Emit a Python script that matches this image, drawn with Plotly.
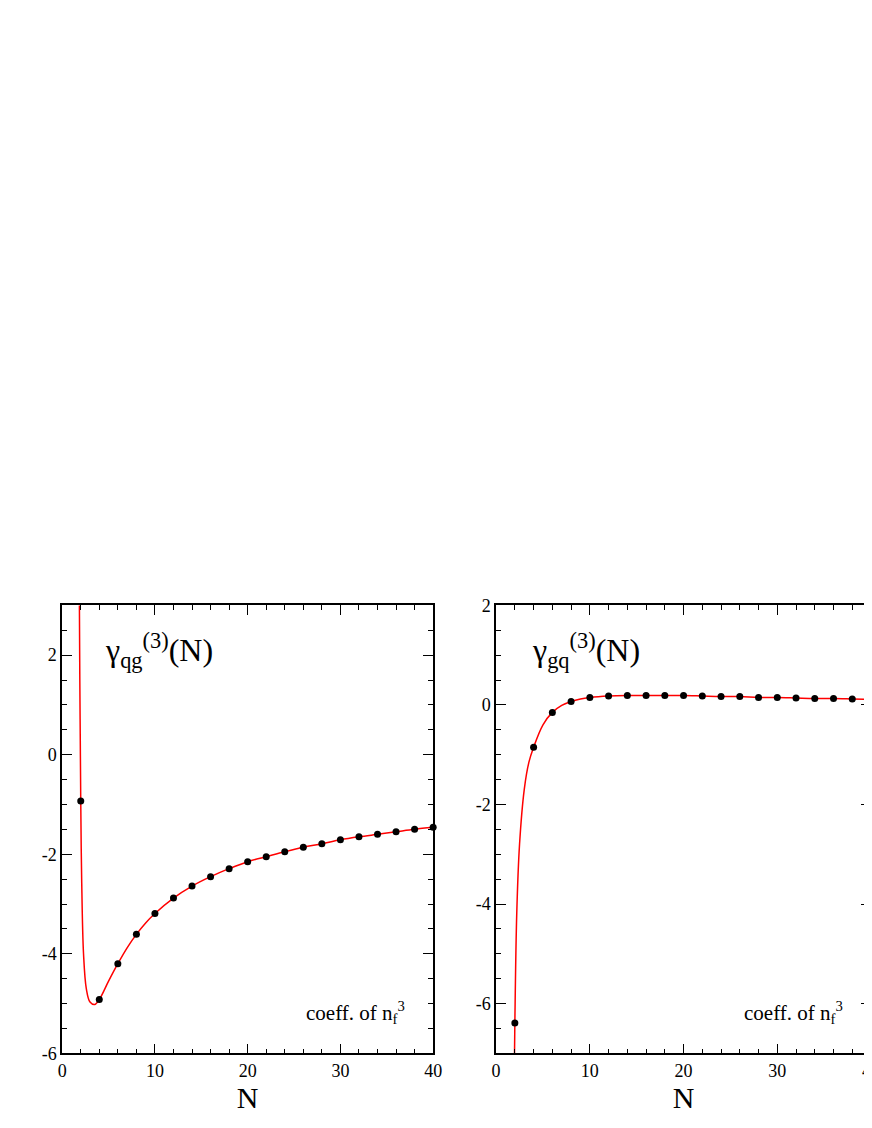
import plotly.graph_objects as go

N_pts = [2,4,6,8,10,12,14,16,18,20,22,24,26,28,30,32,34,36,38,40]
qg_pts = [-0.93,-4.92,-4.2,-3.61,-3.19,-2.88,-2.64,-2.45,-2.29,-2.15,-2.05,-1.95,-1.86,-1.79,-1.71,-1.65,-1.60,-1.55,-1.50,-1.46]
gq_pts = [-6.39,-0.85,-0.15,0.07,0.15,0.18,0.19,0.19,0.19,0.19,0.18,0.17,0.17,0.15,0.15,0.14,0.13,0.13,0.12,0.11]

qg_curve_N = [1.85,1.9,1.95,2.0,2.1,2.3,2.6,3.0,3.5,4.0,5.0,6,7,8,9,10,12,14,16,18,20,22,24,26,28,30,32,34,36,38,40]
qg_curve_v = [3.2,1.5,0.3,-0.93,-2.5,-4.0,-4.7,-4.97,-5.02,-4.92,-4.55,-4.2,-3.88,-3.61,-3.38,-3.19,-2.88,-2.64,-2.45,-2.29,-2.15,-2.05,-1.95,-1.86,-1.79,-1.71,-1.65,-1.60,-1.55,-1.50,-1.46]
gq_curve_N = [1.95,2.0,2.2,2.5,3.0,3.5,4.0,5.0,6,7,8,9,10,12,14,16,18,20,22,24,26,28,30,32,34,36,38,40]
gq_curve_v = [-7.2,-6.39,-4.2,-2.8,-1.7,-1.15,-0.85,-0.4,-0.15,-0.01,0.07,0.12,0.15,0.18,0.19,0.19,0.19,0.19,0.18,0.17,0.17,0.15,0.15,0.14,0.13,0.13,0.12,0.11]

x_ticks = [0, 10, 20, 30, 40]
y1_ticks = [-6, -4, -2, 0, 2]
y2_ticks = [-6, -4, -2, 0, 2]

fig = go.Figure()
for i, (cn, cv, pv) in enumerate([(qg_curve_N, qg_curve_v, qg_pts), (gq_curve_N, gq_curve_v, gq_pts)]):
    sx = "x" if i == 0 else "x2"
    sy = "y" if i == 0 else "y2"
    fig.add_trace(go.Scatter(x=cn, y=cv, mode="lines", line=dict(color="red", width=1.5, shape="spline"),
                             xaxis=sx, yaxis=sy, showlegend=False))
    fig.add_trace(go.Scatter(x=N_pts, y=pv, mode="markers", marker=dict(color="black", size=7),
                             xaxis=sx, yaxis=sy, showlegend=False, cliponaxis=False))

fam = "Liberation Serif, Times New Roman, serif"
font = dict(family=fam, size=18, color="black")
minor = dict(ticks="inside", ticklen=5, tickcolor="black", tickwidth=1.2)
ax = dict(showline=True, linecolor="black", linewidth=1.5, mirror="ticks", ticks="inside", ticklen=10,
          tickwidth=1.2, tickcolor="black", showgrid=False, zeroline=False, tickfont=font)
lab = lambda v: [str(t) for t in v]
ytop, ybot = 1 - 598/1128, 1 - 1054/1128
xt = dict(text="N", font=dict(family=fam, size=30), standoff=0)
fig.update_layout(
    width=872, height=1128, margin=dict(l=0, r=0, t=0, b=0),
    paper_bgcolor="white", plot_bgcolor="white", font=font,
    xaxis=dict(ax, domain=[50/872, 427/872], range=[0, 40], tickvals=x_ticks, ticktext=lab(x_ticks),
               minor=dict(minor, dtick=2), title=xt, anchor="y"),
    yaxis=dict(ax, domain=[ybot, ytop], range=[-6, 3], tickvals=y1_ticks, ticktext=lab(y1_ticks),
               minor=dict(minor, dtick=0.5), anchor="x"),
    xaxis2=dict(ax, domain=[491/872, 1.0], range=[0, 40], tickvals=x_ticks, ticktext=lab(x_ticks),
                minor=dict(minor, dtick=2), title=xt, anchor="y2"),
    yaxis2=dict(ax, domain=[ybot, ytop], range=[-7, 2], tickvals=y2_ticks, ticktext=lab(y2_ticks),
                minor=dict(minor, dtick=0.5), anchor="x2"),
)
big = dict(family=fam, size=32, color="black")
fig.add_annotation(xref="x domain", yref="y domain", x=0.11, y=0.9, xanchor="left", yanchor="middle", showarrow=False,
                   text="γ<sub>qg</sub><sup>(3)</sup>(N)", font=big)
fig.add_annotation(xref="x2 domain", yref="y2 domain", x=0.09, y=0.9, xanchor="left", yanchor="middle", showarrow=False,
                   text="γ<sub>gq</sub><sup>(3)</sup>(N)", font=big)
for xr, yr in [("x domain", "y domain"), ("x2 domain", "y2 domain")]:
    fig.add_annotation(xref=xr, yref=yr, x=0.93, y=0.09, xanchor="right", yanchor="middle", showarrow=False,
                       text="coeff. of n<sub>f</sub><sup>3</sup>", font=dict(family=fam, size=21, color="black"))
fig.write_html("out.html")
